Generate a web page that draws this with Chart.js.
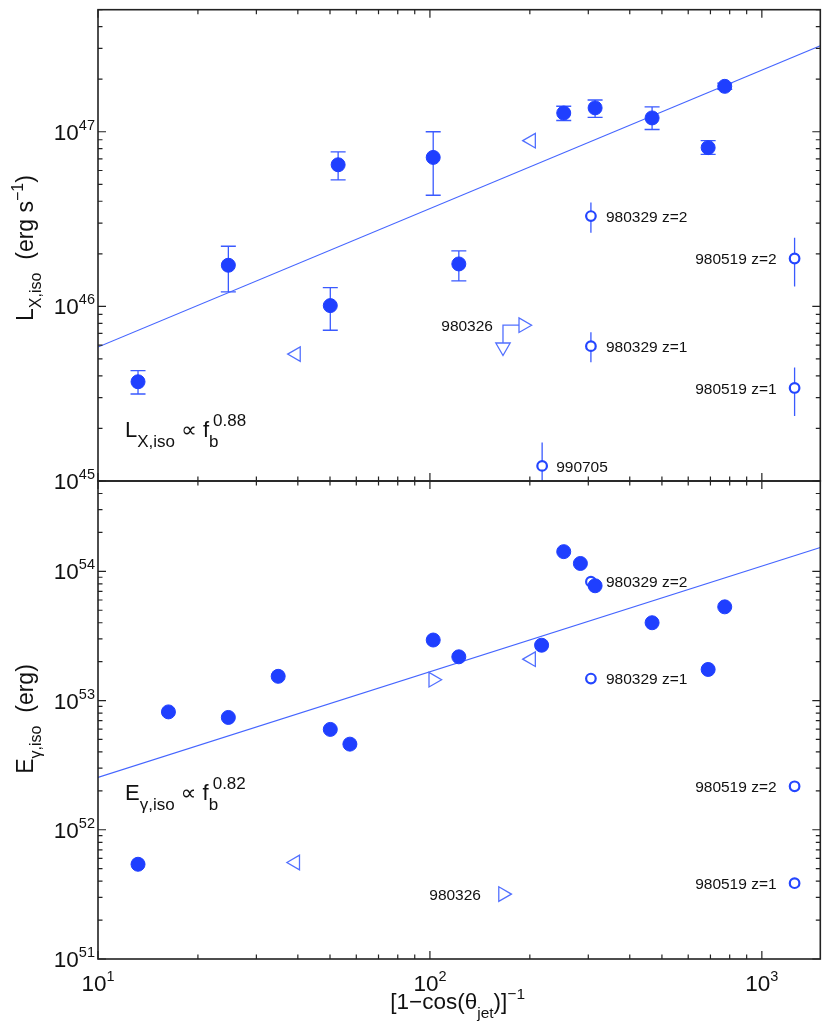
<!DOCTYPE html>
<html>
<head>
<meta charset="utf-8">
<title>L_X,iso e E_gamma,iso vs f_b</title>
<script src="https://cdn.jsdelivr.net/npm/chart.js@4.4.1/dist/chart.umd.min.js"></script>
<style>
  body { margin: 0; background: #fff; }
  #wrap { position: relative; width: 830px; height: 1029px; }
  #wrap canvas { position: absolute; left: 0; top: 0; }
</style>
</head>
<body>
<div id="wrap">
  <canvas id="lxChart" width="830" height="1029"></canvas>
  <canvas id="egChart" width="830" height="1029"></canvas>
</div>
<script>
/* ticks dos eixos (log) */
const xTicks = [10, 100, 1000];
const lxTicks = [1e45, 1e46, 1e47];
const egTicks = [1e51, 1e52, 1e53, 1e54];

/* painel de cima: L_X,iso */
const lxX  = [13.2, 24.7, 50.1, 52.9, 102.3, 122.2, 253, 314.5, 467, 689, 773];
const lxY  = [3.70e45, 1.72e46, 1.01e46, 6.47e46, 7.13e46, 1.75e46, 1.28e47, 1.37e47, 1.20e47, 8.11e46, 1.82e47];
const lxLo = [3.15e45, 1.21e46, 7.3e45, 5.3e46, 4.33e46, 1.40e46, 1.16e47, 1.21e47, 1.03e47, 7.43e46, 1.75e47];
const lxHi = [4.29e45, 2.21e46, 1.28e46, 7.67e46, 1.0e47, 2.08e46, 1.40e47, 1.52e47, 1.39e47, 8.9e46, 1.9e47];

const lxOpenNames = ['980329 z=2', '980329 z=1', '980519 z=2', '980519 z=1', '990705'];
const lxOpenX  = [305.5, 305.5, 1255, 1255, 217.8];
const lxOpenY  = [3.29e46, 5.92e45, 1.88e46, 3.41e45, 1.22e45];
const lxOpenLo = [2.64e46, 4.79e45, 1.30e46, 2.36e45, 8e44];
const lxOpenHi = [3.93e46, 7.1e45, 2.47e46, 4.47e45, 1.66e45];

const lxLeftX = [39.5, 201.8];          // limites (triangulo para a esquerda)
const lxLeftY = [5.33e45, 8.89e46];
const lx980326X = [166, 166, 191];       // seta para baixo, canto, seta para a direita
const lx980326Y = [5.84e45, 7.8e45, 7.8e45];
const lxFitX = [10, 1500];
const lxFitY = [5.85e45, 3.11e47];

/* painel de baixo: E_gamma,iso */
const egX = [13.2, 16.3, 24.7, 34.9, 50.1, 57.4, 102.3, 122.2, 217, 253, 284, 314.5, 467, 689, 773];
const egY = [5.41e51, 8.17e52, 7.4e52, 1.54e53, 5.98e52, 4.6e52, 2.94e53, 2.18e53, 2.68e53, 1.42e54, 1.15e54, 7.73e53, 4.0e53, 1.74e53, 5.31e53];

const egOpenNames = ['980329 z=2', '980329 z=1', '980519 z=2', '980519 z=1'];
const egOpenX = [305.5, 305.5, 1255, 1255];
const egOpenY = [8.32e53, 1.48e53, 2.17e52, 3.86e51];

const egLeftX = [39.3, 201.8];
const egLeftY = [5.58e51, 2.09e53];
const egRightX = [102.3, 166];
const egRightY = [1.45e53, 3.18e51];
const egFitX = [10, 1500];
const egFitY = [2.54e52, 1.53e54];

/* deslocamento dos rotulos (px), negativo = texto a esquerda */
const openDx = [15, 15, -18, -18, 14];

/* -------------------------------------------------------------------------- */
const FONT = '"Liberation Sans", Arial, "DejaVu Sans", sans-serif';
const INK = '#111';
const BLUE = '#1f3fff';
const OPEN = '#2446ff';
const TRI = '#5270ff';
const ERR = '#3a5aff';
const FIT = '#4565ff';

function pts(xs, ys) { return xs.map((x, i) => ({x: x, y: ys[i]})); }

// texto com sub/sobrescrito: [texto, tamanho, dy, recuo opcional a partir do inicio anterior]
function rich(ctx, parts, x, y, align) {
  let cx = 0, prev = 0;
  const starts = parts.map(p => {
    ctx.font = p[1] + 'px ' + FONT;
    const s = p[3] != null ? prev + p[3] : cx;
    prev = s;
    cx = Math.max(cx, s + ctx.measureText(p[0]).width);
    return s;
  });
  const x0 = align == 'center' ? x - cx / 2 : align == 'right' ? x - cx : x;
  parts.forEach((p, i) => {
    ctx.font = p[1] + 'px ' + FONT;
    ctx.fillText(p[0], x0 + starts[i], y + p[2]);
  });
}

function logSteps(scale) {
  const out = [];
  for (let e = Math.floor(Math.log10(scale.min)); e <= Math.ceil(Math.log10(scale.max)); e++) {
    for (let m = 1; m < 10; m++) {
      const v = m * Math.pow(10, e);
      if (v >= scale.min * 0.999 && v <= scale.max * 1.001) out.push([v, m == 1]);
    }
  }
  return out;
}

/* barras de erro */
const barrasErro = {
  id: 'barrasErro',
  beforeDatasetsDraw(chart) {
    const {ctx, chartArea: a, scales: {x, y}} = chart;
    ctx.save();
    ctx.beginPath();
    ctx.rect(a.left, a.top, a.right - a.left, a.bottom - a.top);
    ctx.clip();
    ctx.strokeStyle = ERR;
    ctx.lineWidth = 1.3;
    chart.data.datasets.forEach(ds => {
      if (!ds.errLo) return;
      ds.data.forEach((p, i) => {
        const px = x.getPixelForValue(p.x);
        const y1 = y.getPixelForValue(ds.errLo[i]);
        const y2 = y.getPixelForValue(ds.errHi[i]);
        const c = ds.errCap || 0;
        ctx.beginPath();
        ctx.moveTo(px, y1); ctx.lineTo(px, y2);
        if (c) {
          ctx.moveTo(px - c, y1); ctx.lineTo(px + c, y1);
          ctx.moveTo(px - c, y2); ctx.lineTo(px + c, y2);
        }
        ctx.stroke();
      });
    });
    ctx.restore();
  }
};

/* moldura, ticks para dentro, rotulos dos eixos e textos */
const moldura = {
  id: 'moldura',
  afterDraw(chart, args, o) {
    const {ctx, chartArea: a, scales: {x, y}} = chart;
    ctx.save();
    ctx.strokeStyle = '#222';
    ctx.lineWidth = 1.2;
    ctx.beginPath();
    logSteps(x).forEach(([v, major]) => {
      const px = x.getPixelForValue(v), l = major ? 8 : 4.5;
      ctx.moveTo(px, a.bottom); ctx.lineTo(px, a.bottom - l);
      ctx.moveTo(px, a.top); ctx.lineTo(px, a.top + l);
    });
    logSteps(y).forEach(([v, major]) => {
      const py = y.getPixelForValue(v), l = major ? 8 : 4.5;
      ctx.moveTo(a.left, py); ctx.lineTo(a.left + l, py);
      ctx.moveTo(a.right, py); ctx.lineTo(a.right - l, py);
    });
    ctx.stroke();
    ctx.lineWidth = 1.6;
    ctx.strokeRect(a.left, a.top, a.right - a.left, a.bottom - a.top);

    ctx.fillStyle = INK;
    ctx.textAlign = 'left';
    ctx.textBaseline = 'alphabetic';
    o.yTicks.forEach(v => {
      const py = y.getPixelForValue(v);
      rich(ctx, [['10', 22.5, 0], [String(Math.round(Math.log10(v))), 14.5, -10]], a.left - 3, py + 8, 'right');
    });
    if (o.xTicks) {
      o.xTicks.forEach(v => {
        const px = x.getPixelForValue(v);
        rich(ctx, [['10', 22.5, 0], [String(Math.round(Math.log10(v))), 14.5, -10]], px, a.bottom + 32, 'center');
      });
      rich(ctx, [['[1\u2212cos(\u03b8', 22.5, 0], ['jet', 15.5, 9], [')]', 22.5, 0], ['\u22121', 15.5, -10]],
        (a.left + a.right) / 2 - 1.5, a.bottom + 50, 'center');
    }

    // titulo do eixo y (vertical)
    ctx.save();
    ctx.translate(33, o.titleY);
    ctx.rotate(-Math.PI / 2);
    rich(ctx, o.title, 0, 0, 'center');
    ctx.restore();

    // formula do ajuste
    rich(ctx, o.formula, 125, o.formulaY, 'left');

    // rotulos dos pontos
    o.labels.forEach(l => {
      const px = x.getPixelForValue(l.x) + l.dx;
      const py = y.getPixelForValue(l.y);
      rich(ctx, [[l.text, 15.5, 0]], px, py + 5.6, l.dx < 0 ? 'right' : 'left');
    });
    ctx.restore();
  }
};

function baseOptions(yMin, yMax, pad, extra) {
  return {
    responsive: false,
    animation: false,
    events: [],
    layout: {padding: pad},
    plugins: {legend: {display: false}, tooltip: {enabled: false}, moldura: extra},
    scales: {
      x: {type: 'logarithmic', min: 10, max: 1500, display: false, bounds: 'data'},
      y: {type: 'logarithmic', min: yMin, max: yMax, display: false, bounds: 'data'}
    }
  };
}

function filled(xs, ys, lo, hi) {
  return {data: pts(xs, ys), pointRadius: 7, pointBackgroundColor: BLUE, pointBorderColor: BLUE,
    pointBorderWidth: 1, errLo: lo, errHi: hi, errCap: 7.5};
}
function open(xs, ys, lo, hi) {
  return {data: pts(xs, ys), pointRadius: 4.8, pointBackgroundColor: '#fff', pointBorderColor: OPEN,
    pointBorderWidth: 2.2, errLo: lo, errHi: hi, errCap: 0};
}
function tri(xs, ys, rot) {
  return {data: pts(xs, ys), pointStyle: 'triangle', pointRotation: rot, pointRadius: 8.4,
    pointBackgroundColor: '#fff', pointBorderColor: TRI, pointBorderWidth: 1.3};
}
function fit(xs, ys) {
  return {data: pts(xs, ys), showLine: true, pointRadius: 0, borderColor: FIT, borderWidth: 1.2, tension: 0};
}

/* -------------------------------------------------------------------------- */
let lxLabels = lxOpenNames.map((n, i) => ({text: n, x: lxOpenX[i], y: lxOpenY[i], dx: openDx[i]}));
lxLabels.push({text: '980326', x: lx980326X[1], y: lx980326Y[1], dx: -10});

new Chart(document.getElementById('lxChart'), {
  type: 'scatter',
  data: {
    datasets: [
      filled(lxX, lxY, lxLo, lxHi),
      open(lxOpenX, lxOpenY, lxOpenLo, lxOpenHi),
      tri(lxLeftX, lxLeftY, -90),
      {
        data: pts(lx980326X, lx980326Y), showLine: true, borderColor: TRI, borderWidth: 1.3, tension: 0,
        pointStyle: ['triangle', 'circle', 'triangle'], pointRadius: [8.3, 0, 8.4], pointRotation: [180, 0, 90],
        pointBackgroundColor: '#fff', pointBorderColor: TRI, pointBorderWidth: 1.3
      },
      fit(lxFitX, lxFitY)
    ]
  },
  options: baseOptions(1e45, 5e47, {left: 98, right: 7, top: 5, bottom: 548}, {
    yTicks: lxTicks,
    titleY: 248,
    title: [['L', 23, 0], ['X,iso', 16, 8], ['  (erg s', 23, 0], ['\u22121', 16, -10], [')', 23, 0]],
    formulaY: 436.5,
    formula: [['L', 22, 0], ['X,iso', 17, 10], [' \u221d ', 22, 0], ['f', 22, 0], ['b', 17, 10], ['0.88', 17, -11, 4]],
    labels: lxLabels
  }),
  plugins: [barrasErro, moldura]
});

let egLabels = egOpenNames.map((n, i) => ({text: n, x: egOpenX[i], y: egOpenY[i], dx: openDx[i]}));
egLabels.push({text: '980326', x: egRightX[1], y: egRightY[1], dx: -22});

new Chart(document.getElementById('egChart'), {
  type: 'scatter',
  data: {
    datasets: [
      filled(egX, egY, null, null),
      open(egOpenX, egOpenY, null, null),
      tri(egLeftX, egLeftY, -90),
      tri(egRightX, egRightY, 90),
      fit(egFitX, egFitY)
    ]
  },
  options: baseOptions(1e51, 5e54, {left: 98, right: 7, top: 481, bottom: 70}, {
    yTicks: egTicks,
    xTicks: xTicks,
    titleY: 719,
    title: [['E', 23, 0], ['\u03b3,iso', 16, 8], ['  (erg)', 23, 0]],
    formulaY: 799.5,
    formula: [['E', 22, 0], ['\u03b3,iso', 17, 10], [' \u221d ', 22, 0], ['f', 22, 0], ['b', 17, 10], ['0.82', 17, -11, 4]],
    labels: egLabels
  }),
  plugins: [barrasErro, moldura]
});
</script>
</body>
</html>
